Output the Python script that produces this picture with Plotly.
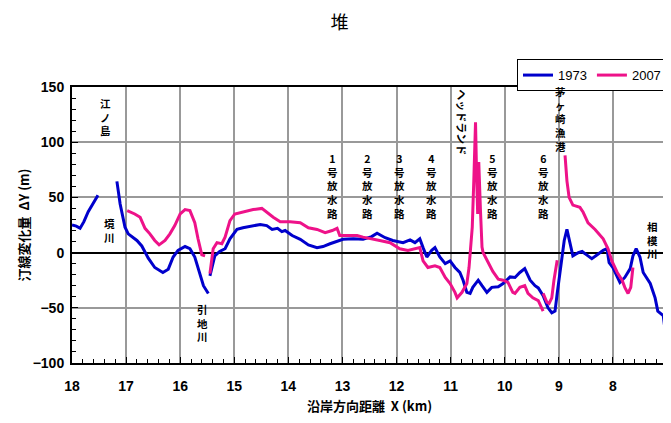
import plotly.graph_objects as go

# ---- data ----
x_1973 = [18.0, 17.92, 17.85, 17.78, 17.7, 17.62, 17.52, None,
          17.17, 17.11, 17.02, 16.96, 16.8, 16.71, 16.59, 16.47, 16.32, 16.22, 16.13, 16.04,
          15.91, 15.82, 15.73, 15.63, 15.57, 15.48, None,
          15.45, 15.36, 15.27, 15.17, 15.08, 14.95, 14.84, 14.65, 14.52, 14.4, 14.3, 14.2,
          14.12, 14.06, 13.93, 13.78, 13.63, 13.47, 13.36, 13.23, 13.1, 12.99, 12.8, 12.62,
          12.46, 12.36, 12.21, 12.07, 11.88, 11.75, 11.66, 11.57, 11.51, 11.44, 11.35, 11.29,
          11.2, 11.1, 11.01, 10.92, 10.83, 10.77, 10.70, 10.64, 10.59, 10.49, 10.42, 10.33,
          10.24, 10.12, 10.03, 9.90, 9.81, 9.72, 9.63, 9.53, 9.44, 9.38, 9.29, 9.2, 9.13,
          9.07, 9.03, 8.98, 8.94, 8.9, 8.85, 8.79, 8.74, 8.64, 8.57, 8.46, 8.39, 8.29, 8.18,
          8.11, 8.07, 8.0, 7.92, 7.87, 7.78, 7.68, 7.63, 7.57, 7.5, 7.44, 7.31, 7.22, 7.17,
          7.07, 7.0]
y_1973 = [25, 24, 22, 28, 37, 44, 52, None,
          64.5, 44, 23, 17, 11, 6, -5, -13.5, -18, -15, -4, 2,
          5.5, 3.5, -4, -19, -30, -37, None,
          -21, -3, 1, 3.5, 12.5, 21, 22.5, 24.5, 25.5, 24.5, 21, 22,
          19, 20, 15.5, 12, 7, 4.5, 5.5, 8, 10, 12, 12.5, 12,
          14.5, 17.5, 13.5, 11, 9, 11.5, 9, 12.5, 4.5, -4, 2, 4.5,
          -4, -10, -7.5, -13.5, -18, -25, -36, -37, -31.5, -25, -30, -36,
          -31.5, -31, -28, -22, -22.5, -18, -14.5, -25, -30, -32, -39, -50, -54.5,
          -53, -37, -19, -4.5, 11, 21, 9, -3, 0, 1, -3, -5.5, -2, 2,
          3.5, -9, -13.5, -22.5, -27, -22.5, -14.5, -3, 3.5, -4, -18, -28, -41, -53,
          -57, -83]

x_2007 = [16.98, 16.84, 16.74, 16.65, 16.56, 16.47, 16.39, 16.28, 16.19, 16.1, 16.0, 15.91,
          15.82, 15.73, 15.67, 15.6, 15.54, None,
          15.45, 15.39, 15.32, 15.23, 15.17, 15.08, 14.99, 14.84, 14.65, 14.49, 14.4, 14.28,
          14.15, 13.97, 13.78, 13.63, 13.47, 13.32, 13.19, 13.1, 13.05, 12.92, 12.73, 12.62,
          12.49, 12.31, 12.12, 11.94, 11.79, 11.57, 11.51, 11.42, 11.29, 11.2, 11.1, 11.01,
          10.92, 10.88, 10.79, 10.70, 10.66, 10.6, 10.57, 10.54, 10.52, 10.50, 10.49, 10.48,
          10.45, 10.42, 10.4, 10.31, 10.22, 10.12, 10.03, 9.94, 9.85, 9.81, 9.72, 9.63, 9.57,
          9.48, 9.38, 9.29, None,
          9.29, 9.22, 9.18, 9.13, 9.09, 9.03, None,
          8.885, 8.85, 8.81, 8.74, 8.61, 8.55, 8.46, 8.33, 8.18, 8.09, 8.02, 7.92, 7.83,
          7.78, 7.72, 7.67, 7.63]
y_2007 = [38, 35, 32, 22, 17, 11, 7, 11, 17, 24.5, 35, 39,
          38, 27, 12.5, -2, -3, None,
          -19, 3.5, 9, 8, 14, 29, 35, 37, 39, 40, 36.5, 32,
          28, 28, 27, 22.5, 21, 18, 20, 22, 15.5, 15.5, 15.5, 14,
          12.5, 11, 9, 3.5, 2, 4.5, -7.5, -13.5, -12, -13.5, -22.5, -28,
          -36, -41, -36, -28, -13.5, 23, 68, 118, 70, 35, 60, 82,
          40, 5, 0, -8, -17, -24, -25, -27, -36, -37, -31.5, -30, -37,
          -41, -43.5, -53, None,
          -37, -45, -46, -41, -25, -7, None,
          88, 65, 50, 43, 41, 36.5, 27, 21, 12.5, 3.5, -7.5, -18, -25,
          -31.5, -37, -31.5, -13.5]

label_text = ["江<br>ノ<br>島", "境<br>川", "引<br>地<br>川",
              "1<br>号<br>放<br>水<br>路", "2<br>号<br>放<br>水<br>路",
              "3<br>号<br>放<br>水<br>路", "4<br>号<br>放<br>水<br>路",
              "5<br>号<br>放<br>水<br>路", "6<br>号<br>放<br>水<br>路",
              "茅<br>ヶ<br>崎<br>漁<br>港", "相<br>模<br>川"]
label_x = [17.39, 17.3, 15.58, 13.19, 12.53, 11.95, 11.36, 10.22, 9.29, 8.96, 7.26]
label_y = [122.5, 20, -63.5, 60, 60, 60, 60, 60, 60, 121, 11]

headland_text = "ヘッドランド"
headland_x = 10.79
headland_y = 118

x_ticks = list(range(7, 19))
y_ticks = [-100, -50, 0, 50, 100, 150]

# ---- figure ----
BLUE = "#0000CC"
PINK = "#EE1289"
FONT = "Liberation Sans, Arial, Noto Sans CJK JP, sans-serif"
CJK = "Noto Sans CJK JP, sans-serif"

fig = go.Figure()
fig.add_trace(go.Scatter(x=x_1973, y=y_1973, mode="lines", name="1973",
                         line=dict(color=BLUE, width=3), connectgaps=False))
fig.add_trace(go.Scatter(x=x_2007, y=y_2007, mode="lines", name="2007",
                         line=dict(color=PINK, width=3), connectgaps=False))

for t, xx, yy in zip(label_text, label_x, label_y):
    fig.add_annotation(x=xx, y=yy, text=t, showarrow=False,
                       font=dict(family=CJK, size=10.5, color="black", weight="bold"))
fig.add_annotation(x=headland_x, y=headland_y, text=headland_text, showarrow=False,
                   textangle=90, font=dict(family=CJK, size=11, color="black", weight="bold"))

# the page body has an 8px margin, so the figure is sized/offset to compensate
fig.update_layout(
    width=663, height=407,
    margin=dict(l=64, r=4, t=79, b=52, autoexpand=False),
    paper_bgcolor="white", plot_bgcolor="white",
    title=dict(text="堆", x=0.5, xanchor="center", y=1 - 14.5 / 407, yanchor="middle",
               font=dict(family=CJK, size=18, color="black")),
    legend=dict(orientation="h", x=1, xanchor="right", y=1.101, yanchor="top",
                bordercolor="black", borderwidth=1, bgcolor="white",
                font=dict(family=FONT, size=13, color="black"),
                itemwidth=30, tracegroupgap=0),
    showlegend=True,
)
fig.update_xaxes(
    range=[18, 7], tickvals=x_ticks, ticktext=[str(v) for v in x_ticks],
    automargin=False, ticklabelstandoff=9,
    showgrid=True, gridcolor="#999999", gridwidth=1.5,
    showline=True, linecolor="black", linewidth=2, mirror=True,
    ticks="inside", ticklen=6, tickcolor="black",
    minor=dict(dtick=0.2, ticks="inside", ticklen=4, tickcolor="black", showgrid=False),
    tickfont=dict(family=FONT, size=14, color="black", weight="bold"),
    title=dict(text="沿岸方向距離  X (km)", standoff=10,
               font=dict(family=CJK, size=13, color="black", weight="bold")),
    zeroline=False,
)
fig.update_yaxes(
    range=[-100, 150], tickvals=y_ticks,
    automargin=False, ticklabelstandoff=3,
    showgrid=True, gridcolor="#999999", gridwidth=1.5,
    showline=True, linecolor="black", linewidth=2, mirror=True,
    ticks="inside", ticklen=6, tickcolor="black",
    minor=dict(dtick=10, ticks="inside", ticklen=4, tickcolor="black", showgrid=False),
    tickfont=dict(family=FONT, size=14, color="black", weight="bold"),
    title=dict(text="汀線変化量  ΔY (m)", standoff=0,
               font=dict(family=CJK, size=13, color="black", weight="bold")),
    zeroline=True, zerolinecolor="black", zerolinewidth=1.5,
)

fig.write_html("out.html")
